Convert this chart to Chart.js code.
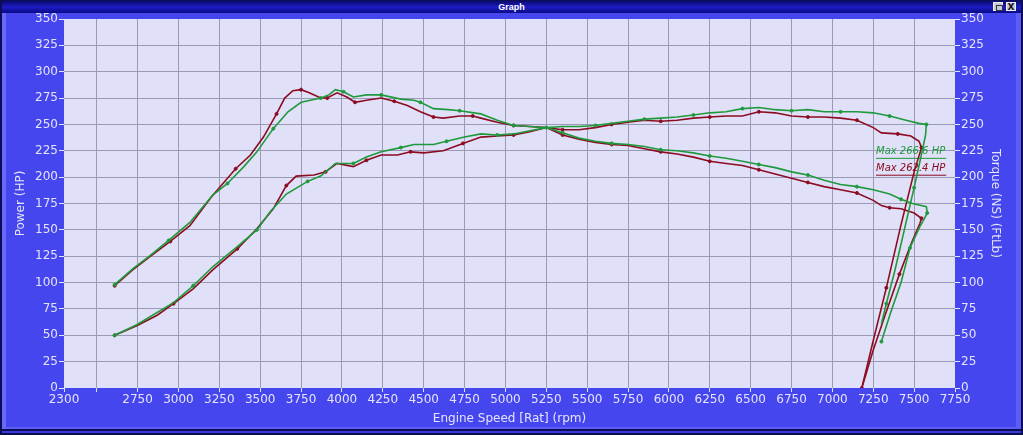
<!DOCTYPE html>
<html>
<head>
<meta charset="utf-8">
<script src="https://cdn.jsdelivr.net/npm/chart.js@4.4.1/dist/chart.umd.min.js"></script>
<style>
  body { margin: 0; background: #0d0d55; }
  #win { position: relative; width: 1023px; height: 435px; background: #0d0d55; overflow: hidden; }
  #titlebar { position: absolute; left: 2px; top: 1px; width: 1019px; height: 12px;
    background: linear-gradient(#0a0a70, #1c1cc4 50%, #0a0a88); }
  #titlebar span { position: absolute; left: 0; width: 100%; top: 0; text-align: center;
    font: bold 9px "Liberation Sans", Arial, sans-serif; color: #fff; line-height: 12px; }
  .btn { position: absolute; top: 2px; width: 10px; height: 9px; background: #c9c9d6; border: 1px solid #eee; box-sizing: border-box; }
  #restore { left: 993px; }
  #restore div { position: absolute; left: 2px; top: 2px; width: 5px; height: 4px; border: 1px solid #333; }
  #close { left: 1006px; font: bold 9px "DejaVu Sans", sans-serif; color: #111; text-align: center; line-height: 8px; }
  #panel { position: absolute; left: 2px; top: 13px; width: 1019px; height: 416px; background: #4646ee;
    box-shadow: inset 4px 0 0 #6a6afa, inset -5px 0 0 #5c5cf6, inset 0 -2px 0 #5c5cf6; }
  #bottomline { position: absolute; left: 2px; top: 431px; width: 1019px; height: 2px; background: #3a3ad8; }
  canvas { position: absolute; left: 0; top: 0; }
</style>
</head>
<body>
<div id="win">
  <div id="titlebar"><span>Graph</span></div>
  <div class="btn" id="restore"><div></div></div>
  <div class="btn" id="close">X</div>
  <div id="panel"></div>
  <div id="bottomline"></div>
  <canvas id="myChart" width="1023" height="435"></canvas>
</div>
<script>
// x axis ticks (rpm)
const xTicks = [2300, 2500, 2750, 3000, 3250, 3500, 3750, 4000, 4250, 4500, 4750, 5000,
  5250, 5500, 5750, 6000, 6250, 6500, 6750, 7000, 7250, 7500, 7750];

// run 1 (green) torque
const gTqRpm = [2610, 2720, 2830, 2940, 3070, 3210, 3300, 3400, 3480, 3580, 3670, 3750, 3870, 3920, 3960,
  4010, 4070, 4150, 4240, 4360, 4440, 4480, 4560, 4650, 4720, 4850, 4950, 5050, 5150, 5250,
  5350, 5450, 5550, 5650, 5750, 5850, 5950, 6050, 6150, 6250, 6350, 6450, 6550, 6650, 6750,
  6850, 6950, 7050, 7150, 7250, 7350, 7420, 7490, 7575, 7580, 7560, 7535, 7475, 7420, 7355, 7300];
const gTq = [98, 113, 126, 140, 157, 183, 194, 210, 224, 246, 262, 271, 275, 278, 283,
  281, 276, 278, 278, 274, 273, 271, 265, 264, 263, 260, 254, 249, 248, 247,
  242, 237, 234, 232, 231, 229, 226, 225, 223, 220, 218, 215, 212, 209, 205,
  202, 197, 193, 191, 188, 184, 179, 175, 172, 166, 160, 153, 133, 100, 71, 44];

// run 1 (green) power
const gHpRpm = [2610, 2745, 2970, 3090, 3210, 3360, 3480, 3560, 3660, 3790, 3870, 3960, 4070, 4150, 4240,
  4360, 4440, 4560, 4640, 4750, 4850, 4950, 5050, 5150, 5250, 5350, 5450, 5550, 5650, 5750,
  5850, 5950, 6050, 6150, 6250, 6350, 6450, 6550, 6650, 6750, 6850, 6950, 7050, 7150, 7250,
  7350, 7450, 7530, 7575, 7570, 7540, 7500, 7440, 7380, 7330, 7300];
const gHp = [50, 60, 81, 97, 115, 134, 150, 167, 184, 196, 201, 213, 213, 219, 224,
  228, 231, 231, 234, 238, 241, 240, 241, 244, 247, 248, 248, 249, 251, 253,
  255, 256, 257, 259, 261, 262, 265, 266, 264, 263, 264, 262, 262, 262, 261,
  258, 254, 251, 250, 240, 218, 190, 150, 110, 80, 61];

// run 2 (red) torque
const rTqRpm = [2610, 2720, 2830, 2950, 3070, 3200, 3350, 3440, 3520, 3600, 3650, 3700, 3750, 3800, 3870,
  3910, 3970, 4030, 4080, 4150, 4240, 4320, 4400, 4480, 4560, 4620, 4720, 4800, 4850, 4950,
  5050, 5150, 5250, 5350, 5450, 5550, 5650, 5750, 5850, 5950, 6050, 6150, 6250, 6350, 6450,
  6550, 6650, 6750, 6850, 6950, 7050, 7150, 7250, 7300, 7350, 7420, 7500, 7545, 7535, 7485,
  7410, 7320, 7250, 7180];
const rTq = [97, 112, 125, 139, 154, 181, 208, 221, 238, 260, 275, 282, 283, 280, 275,
  275, 280, 276, 271, 273, 275, 272, 268, 262, 257, 256, 258, 258, 256, 252,
  249, 248, 247, 240, 236, 233, 231, 230, 227, 224, 222, 219, 215, 213, 211,
  207, 203, 199, 195, 191, 188, 185, 178, 173, 171, 170, 166, 161, 156, 138,
  108, 68, 36, 0];

// run 2 (red) power
const rHpRpm = [2610, 2745, 2870, 2970, 3090, 3210, 3360, 3480, 3580, 3660, 3720, 3830, 3900, 3970, 4070,
  4150, 4240, 4340, 4420, 4500, 4620, 4740, 4850, 4950, 5050, 5150, 5250, 5350, 5450, 5550,
  5650, 5750, 5850, 5950, 6050, 6150, 6250, 6350, 6450, 6550, 6650, 6750, 6850, 6950, 7050,
  7150, 7250, 7300, 7400, 7480, 7530, 7545, 7500, 7420, 7330, 7250, 7180];
const rHp = [50, 59, 69, 80, 94, 112, 132, 151, 170, 192, 201, 202, 205, 213, 210,
  216, 221, 221, 224, 223, 225, 232, 238, 239, 240, 243, 247, 245, 245, 247,
  250, 252, 254, 253, 254, 256, 257, 258, 258, 262, 261, 258, 257, 257, 256,
  254, 247, 242, 241, 239, 234, 228, 205, 155, 95, 45, 0];

const maxLabels = ['Max 266.6 HP', 'Max 262.4 HP'];

const green = '#1e9a3c';
const red = '#8c0c22';
const labelColor = '#e4e4ff';
const gridColor = '#9a9ab4';

function pts(xs, ys) {
  return xs.map((x, i) => ({ x: x, y: ys[i] }));
}

function dataset(xs, ys, color) {
  return {
    data: pts(xs, ys),
    borderColor: color,
    backgroundColor: color,
    borderWidth: 1.6,
    pointRadius: (c) => (c.dataIndex % 3 === 0 ? 1.5 : 0),
    pointBorderWidth: 1,
    tension: 0,
    fill: false
  };
}

// plot background + max labels under the lines
const plotBg = {
  id: 'plotBg',
  beforeDraw(chart) {
    const { ctx, chartArea: a } = chart;
    ctx.save();
    ctx.fillStyle = '#e0e0f8';
    ctx.fillRect(a.left, a.top, a.right - a.left, a.bottom - a.top);
    ctx.restore();
  },
  beforeDatasetsDraw(chart) {
    const { ctx, chartArea: a } = chart;
    const colors = [green, red];
    ctx.save();
    ctx.font = 'italic 10px "DejaVu Sans"';
    ctx.textBaseline = 'middle';
    maxLabels.forEach((t, i) => {
      const x = a.right - 79;
      const y = chart.scales.y.getPixelForValue(224 - i * 16);
      ctx.fillStyle = colors[i];
      ctx.fillText(t, x, y);
      const w = ctx.measureText(t).width;
      ctx.fillRect(x, y + 6, w + 1, 1);
    });
    ctx.restore();
  }
};

const edge = (min, max) => (c) => (c.tick && (c.tick.value === min || c.tick.value === max)) ? 'rgba(0,0,0,0)' : gridColor;
const tickFont = { family: 'DejaVu Sans', size: 12 };
const titleFont = { family: 'DejaVu Sans', size: 12 };

new Chart(document.getElementById('myChart'), {
  type: 'line',
  data: {
    datasets: [
      dataset(gTqRpm, gTq, green),
      dataset(gHpRpm, gHp, green),
      dataset(rTqRpm, rTq, red),
      dataset(rHpRpm, rHp, red)
    ]
  },
  options: {
    responsive: false,
    animation: false,
    layout: { padding: { top: 19, left: 0, right: 0, bottom: 0 } },
    plugins: { legend: { display: false }, tooltip: { enabled: false } },
    scales: {
      x: {
        type: 'linear',
        min: 2300,
        max: 7750,
        afterBuildTicks: (s) => { s.ticks = xTicks.map(v => ({ value: v })); },
        afterFit: (s) => { s.height = 47; },
        ticks: {
          autoSkip: false,
          maxRotation: 0,
          padding: 1,
          color: labelColor,
          font: tickFont,
          callback: (v) => (v === 2500 ? '' : String(v))
        },
        grid: { color: edge(2300, 7750), tickColor: labelColor, tickLength: 4, lineWidth: 1 },
        border: { display: false },
        title: { display: true, text: 'Engine Speed [Rat] (rpm)', color: labelColor, font: titleFont, padding: { top: 0, bottom: 9 } }
      },
      y: {
        position: 'left',
        min: 0,
        max: 350,
        afterFit: (s) => { s.width = 64; },
        ticks: { stepSize: 25, padding: 1, color: labelColor, font: tickFont, callback: (v) => String(v) },
        grid: { color: edge(0, 350), tickColor: labelColor, tickLength: 5 },
        border: { display: false },
        title: { display: true, text: 'Power (HP)', color: labelColor, font: titleFont, padding: { top: 14, bottom: 0 } }
      },
      y2: {
        position: 'right',
        min: 0,
        max: 350,
        afterFit: (s) => { s.width = 68; },
        ticks: { stepSize: 25, padding: 1, color: labelColor, font: tickFont, callback: (v) => String(v) },
        grid: { drawOnChartArea: false, tickColor: labelColor, tickLength: 5 },
        border: { display: false },
        title: { display: true, text: 'Torque (NS) (FtLb)', color: labelColor, font: titleFont, padding: { top: 21, bottom: 0 } }
      }
    }
  },
  plugins: [plotBg]
});
</script>
</body>
</html>
